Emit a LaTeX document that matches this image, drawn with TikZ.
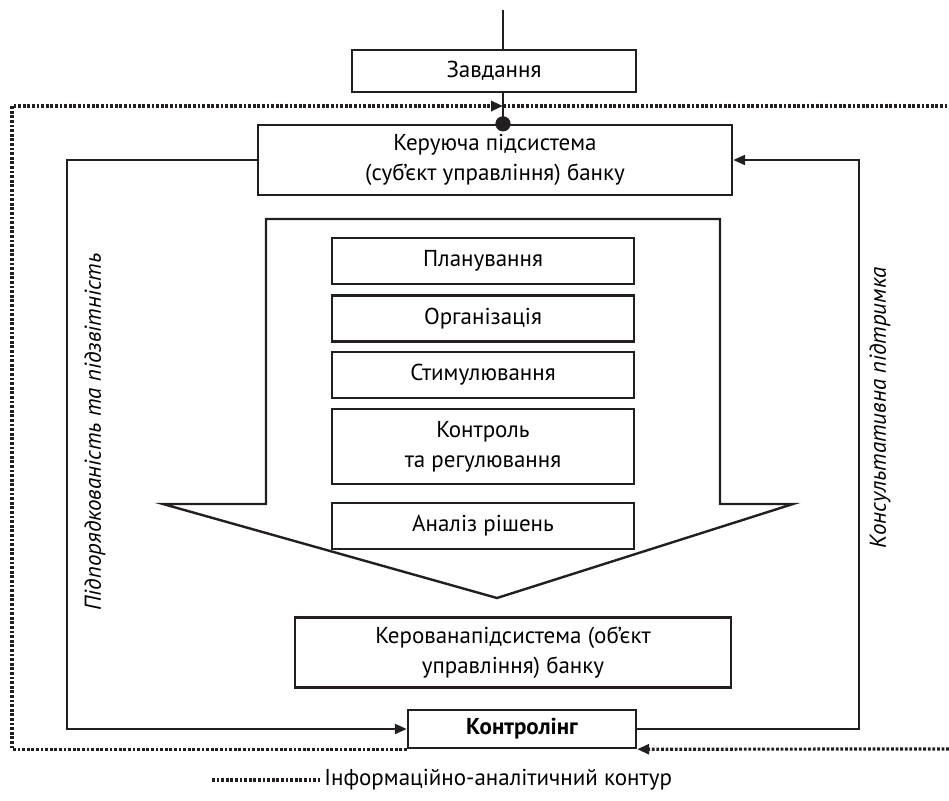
\documentclass[tikz,border=0pt]{standalone}
\usepackage{fontspec}
\setmainfont{PT Sans}
\usepackage{tikz}
\usetikzlibrary{arrows.meta,positioning,calc}
\definecolor{DiagBlack}{HTML}{231F20}
\definecolor{DiagWhite}{HTML}{ffffff}
\tikzset{
    % Base node style
    basenode/.style={
        draw=DiagBlack,
        fill=DiagWhite,
        line width=1.2pt,
        inner sep=0pt,
        align=center,
        font=\fontsize{11.5}{15}\selectfont
    },
    % Wide box (subsystems)
    widebox/.style={
        basenode,
        minimum height=35pt
    },
    % Function box inside the big arrow
    funcbox/.style={
        basenode,
        minimum width=151pt,
        minimum height=23pt
    },
    % Side labels
    sidelabel/.style={
        rotate=90,
        font=\fontsize{11.5}{15}\selectfont\itshape
    },
    % Arrow styles (straight lines only)
    myarrow/.style={
        -{Triangle[length=6pt,width=5pt]},
        line width=1.2pt,
        draw=DiagBlack
    },
    % Plain line
    myline/.style={
        line width=1.2pt,
        draw=DiagBlack
    },
    % Information loop (dotted)
    infoline/.style={
        line width=1.6pt,
        draw=DiagBlack,
        dash pattern=on 1.4pt off 0.9pt
    },
    infoarrow/.style={
        infoline,
        -{Triangle[length=6pt,width=5pt]}
    }
}
\begin{document}
\begin{tikzpicture}[x=0.5pt,y=-0.5pt]
    \useasboundingbox (0,0) rectangle (949,800);
    % big arrow
    \draw[myline,fill=DiagWhite] (266,219) -- (720,219) -- (720,504) -- (793,504)
        -- (497,598) -- (163,504) -- (266,504) -- cycle;
    % boxes
    \node[basenode,minimum width=142pt,minimum height=21pt] (task) at (494,71) {Завдання};
    \node[widebox,minimum width=237pt] (subj) at (495,160) {Керуюча підсистема\\(суб’єкт управління) банку};
    \node[funcbox] (plan) at (483,261) {Планування};
    \node[funcbox] (org) at (483,318.5) {Організація};
    \node[funcbox] (stim) at (483,375) {Стимулювання};
    \node[funcbox,minimum height=37.5pt] (ctrl) at (483,446.5) {Контроль\\та регулювання};
    \node[funcbox] (anal) at (483,526) {Аналіз рішень};
    \node[widebox,minimum width=218pt] (obj) at (513,652.5) {Керованапідсистема (об’єкт\\управління) банку};
    \node[basenode,minimum width=114pt,minimum height=19pt,font=\fontsize{11.5}{15}\selectfont\bfseries] (ctrlg) at (522,729) {Контролінг};
    % side labels
    \node[sidelabel] (subord) at (95,432) {Підпорядкованість та підзвітність};
    \node[sidelabel] (consult) at (880,408) {Консультативна підтримка};
    % helper points
    \coordinate (top) at (503,10);
    \coordinate (lft) at (67,400);
    \coordinate (rgt) at (859,400);
    \coordinate (fl) at (12,106);
    \coordinate (fr) at (949,106);
    \coordinate (br) at (949,749);
    % connectors
    \draw[myline] (top) -- (top |- task.north);
    \draw[myline] (top |- task.south) -- (top |- subj.north);
    \fill[DiagBlack] (top |- subj.north) circle (3.8pt);
    \draw[myarrow] (subj.west) -| (lft) |- (ctrlg.west);
    \draw[myarrow] (ctrlg.east) -| (rgt) |- (subj.east);
    % information loop
    \draw[infoarrow] (br) -- (ctrlg.south east);
    \draw[infoarrow] (ctrlg.south west) -| (fl) -- (top |- fl);
    \draw[infoline] (top |- fl) -- (fr);
    % legend
    \coordinate (lg) at (212,780);
    \node[anchor=west,inner sep=0pt,font=\fontsize{11.5}{15}\selectfont] (legend) at (324,780) {Інформаційно-аналітичний контур};
    \draw[infoline] (lg) -- ($(legend.west)+(-4,0)$);
\end{tikzpicture}
\end{document}
